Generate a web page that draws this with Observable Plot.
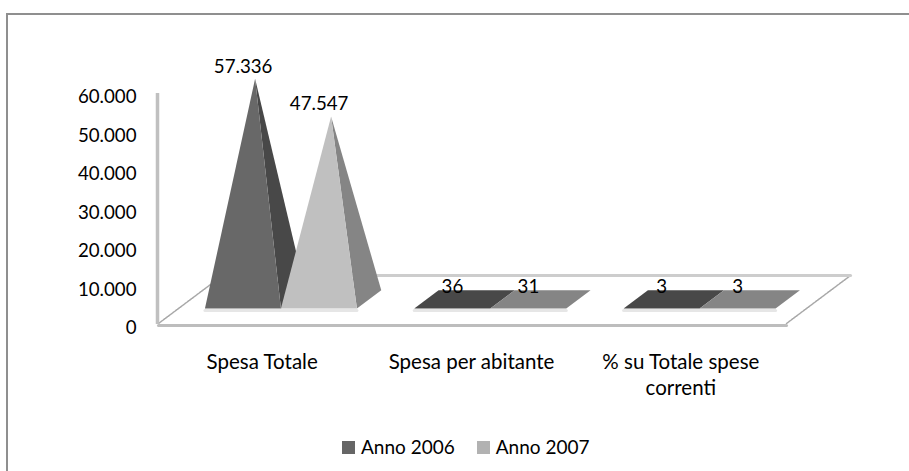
<!DOCTYPE html>
<html><head><meta charset="utf-8">
<script src="https://cdn.jsdelivr.net/npm/d3@7"></script>
<script src="https://cdn.jsdelivr.net/npm/@observablehq/plot@0.6"></script>
<style>
html,body{margin:0;padding:0;background:#fff;}
#wrap{position:relative;width:909px;height:471px;overflow:hidden;font-family:Lato,sans-serif;color:#000;}
#frame{position:absolute;left:6px;top:13px;right:0;bottom:0;border-left:2px solid #8f8f8f;border-top:2px solid #8f8f8f;pointer-events:none;}
#chart{position:absolute;left:0;top:0;}
#legend{position:absolute;left:342px;top:436px;display:flex;align-items:center;font-size:19px;line-height:22px;white-space:nowrap;}
#legend i{display:inline-block;width:13px;height:13px;margin-right:6px;}
#legend span{margin-right:22px;}
</style></head><body>
<div id="wrap"><div id="frame"></div><div id="chart"></div><div id="legend"></div></div>
<script>
const categories = ["Spesa Totale", "Spesa per abitante", "% su Totale spese\ncorrenti"];
const series = ["Anno 2006", "Anno 2007"];
const anno2006 = [57336, 36, 3];
const anno2007 = [47547, 31, 3];
const yTicks = [0, 10000, 20000, 30000, 40000, 50000, 60000];
const frontColors = ["#686868", "#c0c0c0"];
const sideColors = ["#484848", "#858585"];
const legendColors = ["#666666", "#b2b2b2"];

const it = d3.format(",d");
const fmt = v => it(v).replace(/,/g, ".");

// Oblique 3D projection expressed in scale units: depth z (0..1) shifts along x and along y
const depthX = 0.306, depthY = 12470;
const P = (x, z, v) => ({x: x + z * depthX, y: v + z * depthY});
const z0 = 0.31, z1 = 0.69, zm = 0.5;
const barW = 0.363, cOff = 0.49;

const poly = (pts, fill) => Plot.line(pts, {x: "x", y: "y", fill, stroke: "none", curve: "linear"});
const marks = [];

// walls and floor
marks.push(Plot.line([P(0, 0, 0), P(0, 1, 0)], {x: "x", y: "y", stroke: "#a8a8a8", strokeWidth: 1.5, strokeDasharray: "2,1"}));
marks.push(Plot.line([P(3, 0, 0), P(3, 1, 0)], {x: "x", y: "y", stroke: "#a8a8a8", strokeWidth: 1.5, strokeDasharray: "2,1"}));
marks.push(Plot.line([P(0, 1, 0), P(3, 1, 0)], {x: "x", y: "y", stroke: "#cdcdcd", strokeWidth: 3}));
marks.push(Plot.line([P(0, 0, 0), P(3, 0, 0)], {x: "x", y: "y", stroke: "#bdbdbd", strokeWidth: 3, dy: 2}));
marks.push(Plot.ruleX([0], {y1: 0, y2: 60000, stroke: "#c0c0c0", strokeWidth: 3.5, dx: -1, dy: 1}));

const labels = [];
categories.forEach((_, i) => {
  [anno2006[i], anno2007[i]].forEach((v, s) => {
    const l = i + cOff - barW + s * barW, r = l + barW, m = (l + r) / 2;
    const apex = P(m, zm, v);
    const fl = P(l, z0, 0), fr = P(r, z0, 0), bl = P(l, z1, 0), br = P(r, z1, 0);
    marks.push(Plot.line([fl, fr], {x: "x", y: "y", stroke: "#e6e6e6", strokeWidth: 3, dy: 2}));
    if (v > depthY) {
      marks.push(poly([fr, br, apex], sideColors[s]));
      marks.push(poly([fl, fr, apex], frontColors[s]));
    } else {
      // nearly flat pyramid: only its base is seen
      marks.push(poly([fl, fr, br, bl], sideColors[s]));
    }
    labels.push({...apex, text: fmt(v)});
  });
});
marks.push(Plot.text(labels, {x: "x", y: "y", text: "text", dx: -12, dy: -12, fontSize: 18.7, fill: "#000"}));

marks.push(Plot.axisY({ticks: yTicks, tickFormat: fmt, tickSize: 0, tickPadding: 22, dy: 5, fontSize: 18.7, label: null, fill: "#000"}));
marks.push(Plot.axisX({ticks: categories.map((_, i) => i + 0.5), tickFormat: t => categories[Math.floor(t)], tickSize: 0, tickPadding: 27, dx: -1, fontSize: 20.5, label: null, fill: "#000", lineHeight: 1.27}));

const chart = Plot.plot({
  width: 909, height: 471,
  marginLeft: 158, marginRight: 123, marginTop: 92, marginBottom: 148,
  x: {domain: [0, 3]},
  y: {domain: [0, 60000]},
  style: {fontFamily: "Lato, sans-serif", background: "transparent", overflow: "visible"},
  marks
});
document.getElementById("chart").append(chart);

const lg = document.getElementById("legend");
series.forEach((s, i) => {
  const sw = document.createElement("i"); sw.style.background = legendColors[i];
  const t = document.createElement("span"); t.textContent = s;
  lg.append(sw, t);
});
</script></body></html>
